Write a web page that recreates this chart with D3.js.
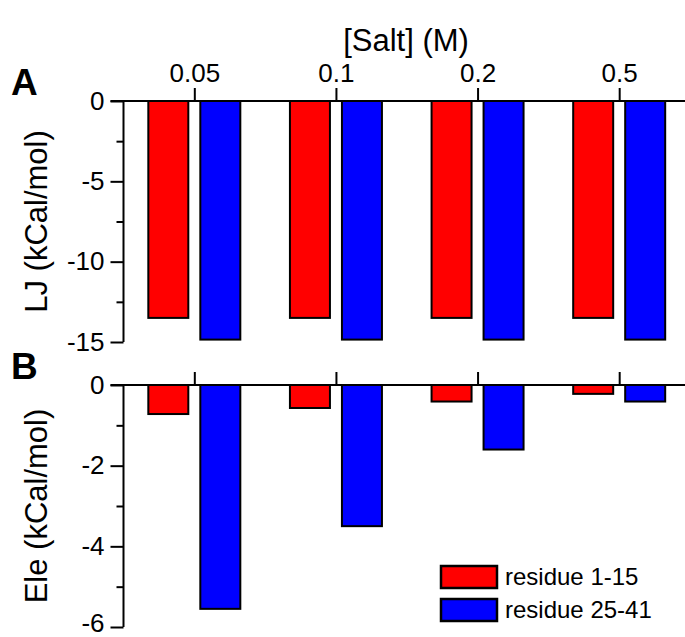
<!DOCTYPE html>
<html>
<head>
<meta charset="utf-8">
<script src="https://cdn.jsdelivr.net/npm/d3@7"></script>
<style>
  html, body { margin: 0; padding: 0; background: #fff; }
  svg { display: block; font-family: "Liberation Sans", Arial, sans-serif; }
</style>
</head>
<body>
<svg id="chart" width="685" height="637"></svg>
<script>
// Salt concentrations (top axis categories)
const salts = ["0.05", "0.1", "0.2", "0.5"];
const seriesNames = ["residue 1-15", "residue 25-41"];
const seriesColors = ["#ff0000", "#0000ff"];

// Panel A: Lennard-Jones interaction energy (kCal/mol)
const ljRes1_15 = [-13.5, -13.5, -13.5, -13.5];
const ljRes25_41 = [-14.85, -14.85, -14.85, -14.85];

// Panel B: electrostatic interaction energy (kCal/mol)
const eleRes1_15 = [-0.72, -0.57, -0.41, -0.22];
const eleRes25_41 = [-5.55, -3.5, -1.6, -0.41];

// Axis ticks
const ljMajor = [0, -5, -10, -15];
const ljMinor = [-2.5, -7.5, -12.5];
const eleMajor = [0, -2, -4, -6];
const eleMinor = [-1, -3, -5];

const svg = d3.select("#chart");

// Category positions along x; the plot runs past the right edge of the page
const x = d3.scaleLinear().domain([0.5, 4.5]).range([123.5, 690]);
const inner = d3.scaleBand().domain(seriesNames).range([-46, 46]).paddingInner(12 / 52);

// plain hyphen-minus for negative tick labels
const fmt = d => String(d);

const panels = [
  { label: "A", title: "LJ (kCal/mol)", domain: [-15, 0], range: [342, 101],
    major: ljMajor, minor: ljMinor, data: [ljRes1_15, ljRes25_41] },
  { label: "B", title: "Ele (kCal/mol)", domain: [-6, 0], range: [627, 385],
    major: eleMajor, minor: eleMinor, data: [eleRes1_15, eleRes25_41] }
];

panels.forEach((p, pi) => {
  const y = d3.scaleLinear().domain(p.domain).range(p.range);
  const g = svg.append("g");

  // bars
  p.data.forEach((vals, si) => {
    g.selectAll(null)
      .data(vals)
      .enter()
      .append("rect")
      .attr("x", (d, i) => x(i + 1) + inner(seriesNames[si]))
      .attr("width", inner.bandwidth())
      .attr("y", d => y(Math.max(0, d)))
      .attr("height", d => Math.abs(y(d) - y(0)))
      .attr("fill", seriesColors[si])
      .attr("stroke", "#000")
      .attr("stroke-width", 2);
  });

  // left axis with major ticks and labels
  const yAxis = d3.axisLeft(y).tickValues(p.major).tickSize(13).tickPadding(6)
    .tickFormat(fmt);
  const ay = g.append("g").attr("transform", `translate(${x(0.5)},0)`).call(yAxis);
  ay.select(".domain").attr("d", `M0,${y(0)}V${y(p.domain[0])}`);
  ay.selectAll("line").attr("stroke-width", 2);
  ay.select(".domain").attr("stroke-width", 2);
  ay.selectAll("text").attr("font-size", 26).attr("fill", "#000")
    .attr("font-family", "Liberation Sans, Arial, sans-serif");
  // keep the lowest label of the bottom panel inside the page
  if (pi === 1) {
    ay.selectAll(".tick text").filter(d => d === p.domain[0]).attr("dy", "0.18em");
  }

  // minor ticks
  const yMinor = d3.axisLeft(y).tickValues(p.minor).tickSize(7).tickFormat("");
  const am = g.append("g").attr("transform", `translate(${x(0.5)},0)`).call(yMinor);
  am.select(".domain").remove();
  am.selectAll("line").attr("stroke-width", 2);

  // top axis line at zero with category ticks pointing up
  const xAxis = d3.axisTop(x).tickValues([1, 2, 3, 4]).tickSize(13)
    .tickSizeOuter(0)
    .tickFormat((d, i) => pi === 0 ? salts[i] : "").tickPadding(6);
  const ax = g.append("g").attr("transform", `translate(0,${y(0)})`).call(xAxis);
  ax.select(".domain").attr("d", `M${x(0.5) - 13},0H${x(4.5)}`).attr("stroke-width", 2);
  ax.selectAll("line").attr("stroke-width", 2);
  ax.selectAll("text").attr("font-size", 26).attr("fill", "#000")
    .attr("font-family", "Liberation Sans, Arial, sans-serif");

  // y title
  const cy = (p.range[0] + p.range[1]) / 2;
  g.append("text")
    .attr("transform", `translate(47,${cy}) rotate(-90)`)
    .attr("text-anchor", "middle")
    .attr("font-size", 31)
    .text(p.title);

  // panel letter
  g.append("text")
    .attr("x", 11)
    .attr("y", y(0) - 6)
    .attr("font-size", 37)
    .attr("font-weight", "bold")
    .text(p.label);
});

// x title
svg.append("text")
  .attr("x", 406)
  .attr("y", 51)
  .attr("text-anchor", "middle")
  .attr("font-size", 31)
  .text("[Salt] (M)");

// legend
const legend = svg.append("g");
seriesNames.forEach((name, i) => {
  const ly = 566 + i * 33;
  legend.append("rect")
    .attr("x", 441).attr("y", ly)
    .attr("width", 56).attr("height", 22)
    .attr("fill", seriesColors[i])
    .attr("stroke", "#000").attr("stroke-width", 2.5);
  legend.append("text")
    .attr("x", 505).attr("y", ly + 11)
    .attr("dy", "0.35em")
    .attr("font-size", 24)
    .text(name);
});
</script>
</body>
</html>
